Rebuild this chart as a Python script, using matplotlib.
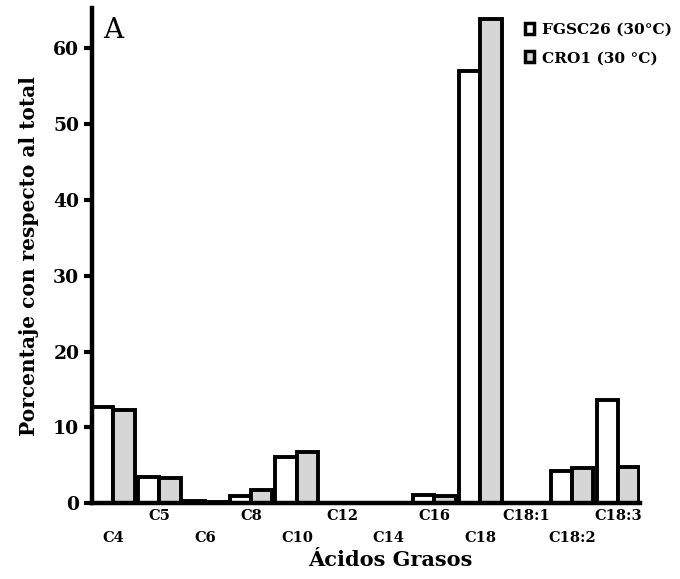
import numpy as np
import matplotlib
matplotlib.use("Agg")
import matplotlib.pyplot as plt
from matplotlib.patches import Patch

acidos = ["C4", "C5", "C6", "C8", "C10", "C12", "C14", "C16", "C18", "C18:1", "C18:2", "C18:3"]
fgsc26 = [12.7, 3.4, 0.3, 1.0, 6.1, 0.0, 0.0, 1.1, 57.0, 0.0, 4.3, 13.6]
cro1 = [12.3, 3.3, 0.2, 1.7, 6.8, 0.0, 0.0, 1.0, 63.8, 0.0, 4.6, 4.8]
leyenda = ["FGSC26 (30°C)", "CRO1 (30 °C)"]

plt.rcParams['font.family'] = ['DejaVu Serif']

fig = plt.figure(figsize=(6.8, 5.79), dpi=100)
ax = fig.add_axes([0.135, 0.131, 0.806, 0.855])

x = np.arange(len(acidos))
w = 0.465
ax.bar(x - w/2, fgsc26, w, color="white", edgecolor="black", linewidth=2.8)
ax.bar(x + w/2, cro1, w, color="#d6d6d6", edgecolor="black", linewidth=2.8)

ax.set_xlim(-0.47, 11.48)
ax.set_ylim(0, 65.3)

for s in ["top", "right"]:
    ax.spines[s].set_visible(False)
for s in ["left", "bottom"]:
    ax.spines[s].set_linewidth(3.2)

ax.set_yticks([0, 10, 20, 30, 40, 50, 60])
ax.tick_params(axis="y", length=6, width=3, pad=3, labelsize=13.5)
for t in ax.get_yticklabels():
    t.set_fontweight("bold")

# staggered category labels: odd ones up, even ones down
ax.set_xticks(x[1::2])
ax.set_xticklabels(acidos[1::2], fontsize=10.5, fontweight="bold")
ax.set_xticks(x[0::2], minor=True)
ax.set_xticklabels(acidos[0::2], minor=True, fontsize=10.5, fontweight="bold")
ax.tick_params(axis="x", which="major", length=0, pad=4)
ax.tick_params(axis="x", which="minor", length=0, pad=20)

ax.set_xlabel("Ácidos Grasos", fontsize=15, fontweight="bold", labelpad=6)
ax.xaxis.set_label_coords(0.544, -0.094)
ax.set_ylabel("Porcentaje con respecto al total", fontsize=14.5, fontweight="bold", labelpad=10)

ax.text(0.02, 0.955, "A", transform=ax.transAxes, fontsize=20, va="center", ha="left")

handles = [Patch(facecolor="white", edgecolor="black", linewidth=2.5),
           Patch(facecolor="#d6d6d6", edgecolor="black", linewidth=2.5)]
leg = fig.legend(handles, leyenda, loc="upper left", bbox_to_anchor=(0.752, 0.985),
                 frameon=False, handlelength=0.6, handleheight=0.7, handletextpad=0.5,
                 labelspacing=0.95, prop={"weight": "bold", "size": 11.1})

fig.savefig("out.png", dpi=100)
